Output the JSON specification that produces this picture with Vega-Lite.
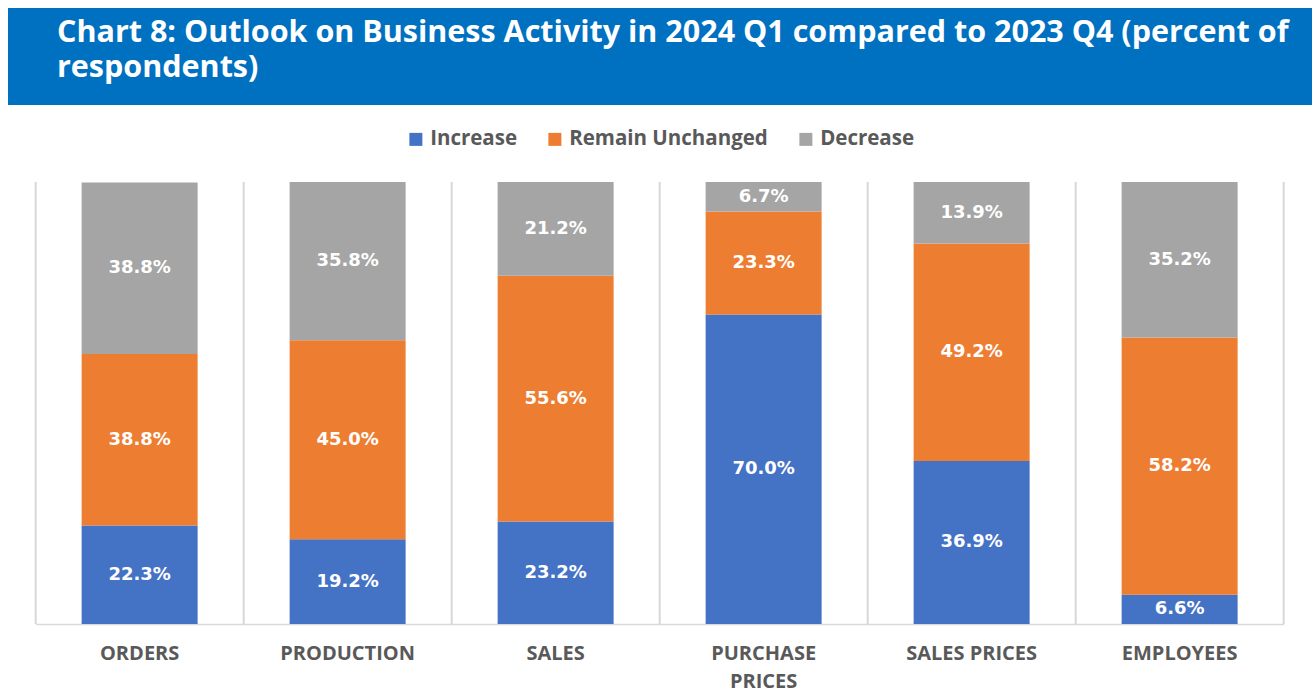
{
  "$schema": "https://vega.github.io/schema/vega-lite/v6.json",
  "background": "white",
  "padding": {"left": 8, "top": 8, "right": 0, "bottom": 6},
  "spacing": 24,
  "center": true,
  "resolve": {"legend": {"color": "independent"}},
  "config": {
    "view": {"stroke": null},
    "legend": {"layout": {"top": {"anchor": "middle"}}}
  },
  "vconcat": [
    {
      "width": 1304,
      "height": 97,
      "data": {"values": [{"part": "header"}]},
      "mark": {"type": "rect", "color": "#0070C0"},
      "encoding": {},
      "title": {
        "text": ["Chart 8: Outlook on Business Activity in 2024 Q1 compared to 2023 Q4 (percent of", "respondents)"],
        "orient": "top",
        "anchor": "start",
        "frame": "group",
        "baseline": "top",
        "offset": -75,
        "dx": 49,
        "color": "white",
        "font": "Open Sans",
        "fontSize": 30.5,
        "fontWeight": "bold",
        "lineHeight": 35
      }
    },
    {
      "width": 1248,
      "height": 442,
      "data": {
        "values": [
          {"item": "ORDERS", "outlook": "Increase", "rank": 1, "share": 0.223},
          {"item": "ORDERS", "outlook": "Remain Unchanged", "rank": 2, "share": 0.388},
          {"item": "ORDERS", "outlook": "Decrease", "rank": 3, "share": 0.388},
          {"item": "PRODUCTION", "outlook": "Increase", "rank": 1, "share": 0.192},
          {"item": "PRODUCTION", "outlook": "Remain Unchanged", "rank": 2, "share": 0.450},
          {"item": "PRODUCTION", "outlook": "Decrease", "rank": 3, "share": 0.358},
          {"item": "SALES", "outlook": "Increase", "rank": 1, "share": 0.232},
          {"item": "SALES", "outlook": "Remain Unchanged", "rank": 2, "share": 0.556},
          {"item": "SALES", "outlook": "Decrease", "rank": 3, "share": 0.212},
          {"item": "PURCHASE PRICES", "outlook": "Increase", "rank": 1, "share": 0.700},
          {"item": "PURCHASE PRICES", "outlook": "Remain Unchanged", "rank": 2, "share": 0.233},
          {"item": "PURCHASE PRICES", "outlook": "Decrease", "rank": 3, "share": 0.067},
          {"item": "SALES PRICES", "outlook": "Increase", "rank": 1, "share": 0.369},
          {"item": "SALES PRICES", "outlook": "Remain Unchanged", "rank": 2, "share": 0.492},
          {"item": "SALES PRICES", "outlook": "Decrease", "rank": 3, "share": 0.139},
          {"item": "EMPLOYEES", "outlook": "Increase", "rank": 1, "share": 0.066},
          {"item": "EMPLOYEES", "outlook": "Remain Unchanged", "rank": 2, "share": 0.582},
          {"item": "EMPLOYEES", "outlook": "Decrease", "rank": 3, "share": 0.352}
        ]
      },
      "encoding": {
        "x": {
          "field": "item",
          "type": "nominal",
          "sort": null,
          "scale": {"domain": ["ORDERS", "PRODUCTION", "SALES", "PURCHASE PRICES", "SALES PRICES", "EMPLOYEES"], "paddingInner": 0.44, "paddingOuter": 0.22},
          "axis": {
            "title": null,
            "labelAngle": 0,
            "grid": false,
            "domainColor": "#D9D9D9",
            "domainWidth": 1.5,
            "ticks": false,
            "labelFont": "Open Sans",
            "labelFontSize": 20,
            "labelFontWeight": "bold",
            "labelColor": "#595959",
            "labelPadding": 19,
            "labelLineHeight": 28,
            "labelExpr": "datum.label == 'PURCHASE PRICES' ? ['PURCHASE', 'PRICES'] : datum.label"
          }
        }
      },
      "layer": [
        {
          "mark": {"type": "rule", "color": "#D9D9D9", "strokeWidth": 1.5, "xOffset": -104},
          "encoding": {
            "x": {"field": "item", "type": "nominal", "sort": null}
          }
        },
        {
          "transform": [{"filter": "datum.item == 'EMPLOYEES'"}],
          "mark": {"type": "rule", "color": "#D9D9D9", "strokeWidth": 1.5, "xOffset": 104},
          "encoding": {
            "x": {"field": "item", "type": "nominal", "sort": null}
          }
        },
        {
          "mark": {"type": "bar", "width": 116},
          "encoding": {
            "y": {
              "field": "share",
              "type": "quantitative",
              "stack": "zero",
              "scale": {"domain": [0, 1], "nice": false},
              "axis": null
            },
            "order": {"field": "rank", "type": "quantitative"},
            "color": {
              "field": "outlook",
              "type": "nominal",
              "sort": ["Increase", "Remain Unchanged", "Decrease"],
              "scale": {"domain": ["Increase", "Remain Unchanged", "Decrease"], "range": ["#4472C4", "#ED7D31", "#A5A5A5"]},
              "legend": {
                "orient": "top",
                "direction": "horizontal",
                "title": null,
                "symbolType": "square",
                "symbolSize": 169,
                "symbolStrokeWidth": 0,
                "labelFont": "Open Sans",
                "labelFontSize": 20.5,
                "labelFontWeight": "bold",
                "labelColor": "#595959",
                "labelLimit": 400,
                "labelOffset": 4,
                "columnPadding": 27,
                "offset": 32
              }
            }
          }
        },
        {
          "mark": {"type": "text", "color": "white", "font": "DejaVu Sans", "fontWeight": "bold", "fontSize": 18, "align": "center", "baseline": "middle"},
          "encoding": {
            "y": {"field": "share", "type": "quantitative", "stack": "zero", "bandPosition": 0.5},
            "order": {"field": "rank", "type": "quantitative"},
            "text": {"field": "share", "type": "quantitative", "format": ".1%"}
          }
        }
      ]
    }
  ]
}
